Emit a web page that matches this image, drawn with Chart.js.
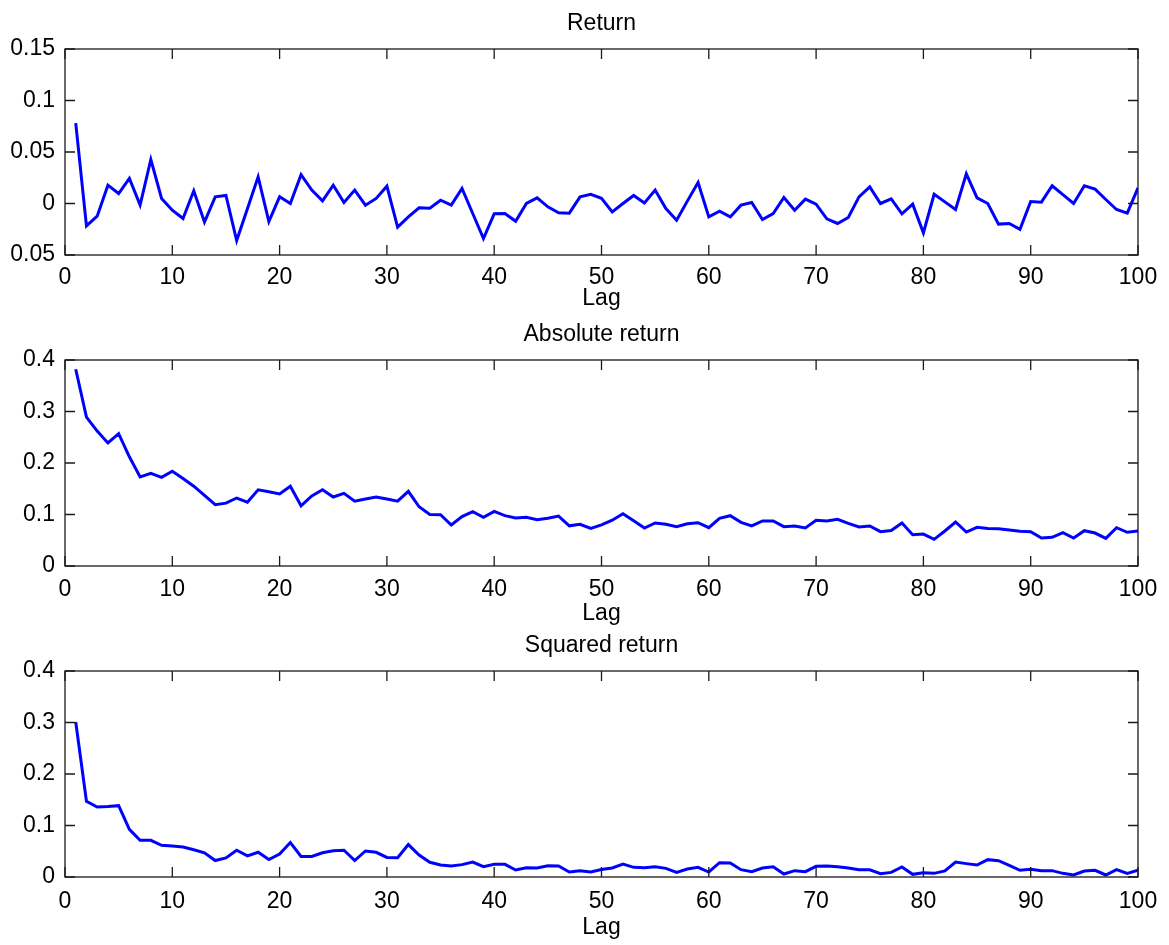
<!DOCTYPE html>
<html lang="en">
<head>
    <meta charset="UTF-8">
    <title>Autocorrelation</title>
    <script src="https://cdn.jsdelivr.net/npm/chart.js@4.4.0/dist/chart.umd.min.js"></script>
    <style>
        body { margin: 0; background: #fff; }
        .panel { position: absolute; left: 0; }
    </style>
</head>
<body>
<canvas id="acf-return" class="panel" style="top:0px" width="1169" height="312"></canvas>
<canvas id="acf-abs" class="panel" style="top:311px" width="1169" height="316"></canvas>
<canvas id="acf-sq" class="panel" style="top:622px" width="1169" height="319"></canvas>

<script>
    // sample autocorrelations, lag 1..100
    const lags = Array.from({length: 100}, (_, i) => i + 1);

    const returnAcf = [
        0.078, -0.0217, -0.0123, 0.0178, 0.0097, 0.0243, -0.0016, 0.0427, 0.0049, -0.0065,
        -0.0146, 0.0123, -0.018, 0.0065, 0.0078, -0.036, -0.005, 0.0259, -0.0175, 0.0065,
        0, 0.028, 0.013, 0.0026, 0.0178, 0.001, 0.013, -0.0016, 0.0049, 0.0168,
        -0.023, -0.013, -0.0042, -0.0045, 0.0032, -0.0016, 0.0146, -0.0097, -0.034, -0.01,
        -0.0097, -0.0172, 0, 0.0055, -0.0032, -0.009, -0.0094, 0.0065, 0.009, 0.005,
        -0.0081, 0, 0.0078, 0.0006, 0.013, -0.0049, -0.0162, 0.0023, 0.0204, -0.013,
        -0.0074, -0.013, -0.0016, 0.001, -0.0155, -0.0097, 0.0058, -0.0065, 0.0042, -0.0006,
        -0.0149, -0.0194, -0.0136, 0.0065, 0.0162, 0, 0.0045, -0.01, -0.0006, -0.0285,
        0.009, 0.0016, -0.0058, 0.0288, 0.0055, 0, -0.02, -0.0194, -0.025, 0.0019,
        0.0013, 0.0172, 0.0087, 0, 0.0172, 0.0139, 0.0039, -0.0058, -0.0094, 0.0152
    ];

    const absAcf = [
        0.382, 0.289, 0.262, 0.239, 0.257, 0.212, 0.173, 0.180, 0.172, 0.184,
        0.170, 0.155, 0.137, 0.119, 0.122, 0.132, 0.124, 0.148, 0.144, 0.140,
        0.155, 0.117, 0.136, 0.148, 0.134, 0.141, 0.126, 0.130, 0.134, 0.130,
        0.126, 0.145, 0.115, 0.100, 0.0997, 0.0796, 0.0958, 0.1055, 0.0945, 0.106,
        0.0977, 0.0932, 0.0945, 0.090, 0.0926, 0.097, 0.078, 0.081, 0.073, 0.080,
        0.089, 0.1016, 0.088, 0.0738, 0.0835, 0.081, 0.0764, 0.082, 0.084, 0.0744,
        0.0926, 0.0977, 0.0848, 0.0777, 0.0874, 0.0874, 0.0764, 0.0777, 0.0738, 0.0887,
        0.0874, 0.0906, 0.0828, 0.0757, 0.0777, 0.0667, 0.069, 0.0835, 0.0608, 0.062,
        0.0518, 0.068, 0.0854, 0.066, 0.075, 0.073, 0.0725, 0.070, 0.0673, 0.0667,
        0.0544, 0.0557, 0.0647, 0.0544, 0.0686, 0.064, 0.0537, 0.0744, 0.0654, 0.068
    ];

    const sqAcf = [
        0.301, 0.147, 0.136, 0.137, 0.1385, 0.0926, 0.0712, 0.0712, 0.0615, 0.0602,
        0.0583, 0.053, 0.047, 0.032, 0.037, 0.052, 0.041, 0.048, 0.034, 0.0447,
        0.067, 0.040, 0.040, 0.047, 0.051, 0.052, 0.032, 0.0505, 0.048, 0.038,
        0.0375, 0.063, 0.0427, 0.0285, 0.0233, 0.0214, 0.024, 0.029, 0.020, 0.0246,
        0.0246, 0.0136, 0.018, 0.0175, 0.022, 0.0214, 0.0097, 0.0123, 0.0097, 0.0145,
        0.0175, 0.025, 0.0188, 0.018, 0.020, 0.0168, 0.009, 0.0155, 0.0188, 0.0097,
        0.0278, 0.0272, 0.0142, 0.0104, 0.0175, 0.020, 0.0058, 0.0123, 0.0104, 0.0207,
        0.0214, 0.020, 0.0175, 0.0142, 0.0139, 0.0065, 0.009, 0.0194, 0.0052, 0.0084,
        0.0071, 0.0117, 0.029, 0.026, 0.0233, 0.0337, 0.0317, 0.0227, 0.013, 0.0149,
        0.0123, 0.0123, 0.0071, 0.0039, 0.0117, 0.013, 0.0039, 0.0142, 0.0071, 0.013
    ];

    // y tick labels, bottom to top
    const returnTicks = ['0.05', '0', '0.05', '0.1', '0.15'];
    const acfTicks = ['0', '0.1', '0.2', '0.3', '0.4'];

    Chart.defaults.font.family = "'Liberation Sans', Arial, sans-serif";
    Chart.defaults.font.size = 23;
    Chart.defaults.color = '#000';

    // box around the plot area with inward tick marks on all four sides
    const boxTicks = {
        id: 'boxTicks',
        afterDraw(chart) {
            const {ctx, chartArea: a, scales: {x, y}} = chart;
            const len = 10;
            ctx.save();
            ctx.strokeStyle = '#1a1a1a';
            ctx.lineWidth = 1.3;
            ctx.strokeRect(a.left, a.top, a.width, a.height);
            ctx.beginPath();
            x.ticks.forEach(t => {
                const px = x.getPixelForValue(t.value);
                ctx.moveTo(px, a.bottom); ctx.lineTo(px, a.bottom - len);
                ctx.moveTo(px, a.top); ctx.lineTo(px, a.top + len);
            });
            y.ticks.forEach(t => {
                const py = y.getPixelForValue(t.value);
                ctx.moveTo(a.left, py); ctx.lineTo(a.left + len, py);
                ctx.moveTo(a.right, py); ctx.lineTo(a.right - len, py);
            });
            ctx.stroke();
            ctx.restore();
        }
    };

    // bottom: height of the x axis block below the plot, tickPad: gap above tick labels
    function draw(id, title, values, yMin, yMax, yStep, tickLabels, bottom, tickPad) {
        new Chart(id, {
            type: 'line',
            data: {
                datasets: [{
                    data: lags.map((lag, i) => ({x: lag, y: values[i]})),
                    borderColor: '#0000ff',
                    borderWidth: 3,
                    pointRadius: 0,
                    tension: 0,
                    fill: false
                }]
            },
            options: {
                responsive: false,
                animation: false,
                devicePixelRatio: 1,
                layout: { padding: {left: 0, right: 31, top: 0, bottom: 0} },
                plugins: {
                    legend: { display: false },
                    tooltip: { enabled: false }
                },
                scales: {
                    x: {
                        type: 'linear',
                        min: 0,
                        max: 100,
                        grid: { display: false, drawTicks: false },
                        border: { display: false },
                        ticks: { stepSize: 10, padding: tickPad, maxRotation: 0 },
                        title: { display: true, text: 'Lag', padding: 0 },
                        afterFit: s => { s.height = bottom; }
                    },
                    // top axis only carries the panel title, centred over the plot
                    top: {
                        type: 'linear',
                        position: 'top',
                        min: 0,
                        max: 100,
                        grid: { display: false, drawTicks: false },
                        border: { display: false },
                        ticks: { display: false },
                        title: { display: true, text: title, padding: {top: 10, bottom: 0} },
                        afterFit: s => { s.height = 49; }
                    },
                    y: {
                        min: yMin,
                        max: yMax,
                        grid: { display: false, drawTicks: false },
                        border: { display: false },
                        ticks: {
                            stepSize: yStep,
                            padding: 10,
                            callback: (v, i) => tickLabels[i]
                        },
                        afterFit: s => { s.width = 65; }
                    }
                }
            },
            plugins: [boxTicks]
        });
    }

    draw('acf-return', 'Return', returnAcf, -0.05, 0.15, 0.05, returnTicks, 57, 9);
    draw('acf-abs', 'Absolute return', absAcf, 0, 0.4, 0.1, acfTicks, 61, 10);
    draw('acf-sq', 'Squared return', sqAcf, 0, 0.4, 0.1, acfTicks, 64, 11);
</script>
</body>
</html>
